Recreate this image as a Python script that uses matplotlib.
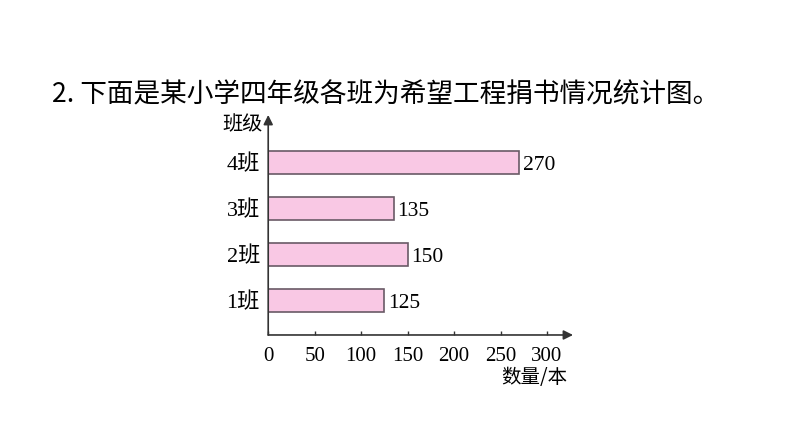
import matplotlib
matplotlib.use("Agg")
import matplotlib.pyplot as plt

# data
classes = ["1班", "2班", "3班", "4班"]
books = [125, 150, 135, 270]
xticks = [0, 50, 100, 150, 200, 250, 300]

title = "2. 下面是某小学四年级各班为希望工程捐书情况统计图。"
ylabel = "班级"
xlabel = "数量/本"

serif = ["Liberation Serif", "Noto Sans CJK SC"]
sans = ["Noto Sans CJK SC", "DejaVu Sans"]

fig = plt.figure(figsize=(7.94, 4.47), dpi=100)
ax = fig.add_axes([0.3378, 0.2506, 0.3839, 0.4922])

ypos = list(range(1, len(classes) + 1))
ax.barh(ypos, books, height=0.5, color="#f9c8e4", edgecolor="#6a5a66", linewidth=1.2)

for y, v in zip(ypos, books):
    ax.text(v + 4, y, str(v), va="center_baseline", ha="left", fontsize=15.5, family=serif)

ax.set_xlim(0, 328)
ax.set_ylim(0.26, 5.04)

for s in ax.spines.values():
    s.set_visible(False)

# axis lines with arrow heads
ax.annotate("", xy=(1, 0), xytext=(0, 0), xycoords="axes fraction",
            arrowprops=dict(arrowstyle="-|>", color="#333333", lw=1.2,
                            mutation_scale=14, shrinkA=0, shrinkB=0))
ax.annotate("", xy=(0, 1), xytext=(0, 0), xycoords="axes fraction",
            arrowprops=dict(arrowstyle="-|>", color="#333333", lw=1.2,
                            mutation_scale=14, shrinkA=0, shrinkB=0))

ax.set_xticks(xticks)
ax.set_xticklabels([str(t) for t in xticks], family=serif, fontsize=15)
ax.tick_params(axis="x", direction="in", length=3, width=1, pad=9, color="#333333")

ax.set_yticks(ypos)
ax.set_yticklabels(classes, family=serif, fontsize=16)
ax.tick_params(axis="y", length=0, pad=6)

fig.text(263 / 794, 1 - 125 / 447, ylabel, ha="right", va="center", fontsize=14.5, family=sans)
fig.text(501 / 794, 1 - 377 / 447, xlabel, ha="left", va="center", fontsize=14, family=sans)
fig.text(52 / 794, 1 - 95 / 447, title, ha="left", va="center", fontsize=19.2, family=sans)

fig.savefig("out.png", dpi=100)
